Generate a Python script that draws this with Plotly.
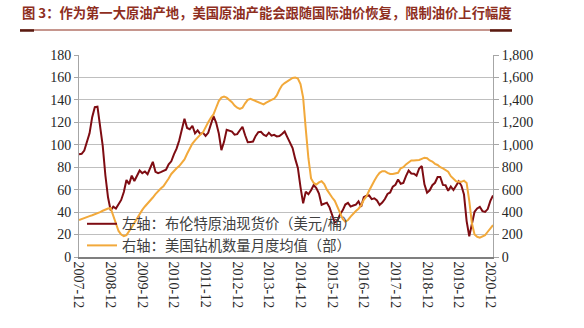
import pandas as pd
import plotly.graph_objects as go

months = [d.strftime("%Y-%m") for d in pd.date_range("2007-12-01", "2021-01-01", freq="MS")]

brent = [
    91.45,
    91.92, 94.82, 103.28, 110.19, 124.61, 133.47, 133.90, 113.85, 99.06, 72.84, 53.24, 41.58,
    44.86, 43.24, 46.84, 50.85, 57.94, 68.59, 64.92, 72.50, 67.69, 73.19, 77.04, 74.67,
    76.17, 73.75, 78.83, 84.82, 75.95, 74.76, 75.58, 77.04, 77.84, 82.67, 85.28, 91.45,
    96.52, 103.72, 114.64, 123.26, 114.99, 113.83, 116.97, 110.22, 112.83, 109.55, 110.77, 107.87,
    110.69, 119.33, 125.45, 119.75, 110.34, 95.16, 102.62, 113.36, 112.86, 111.71, 109.06, 109.49,
    112.96, 116.05, 108.47, 102.25, 102.56, 102.92, 107.93, 111.28, 111.60, 109.08, 107.79, 110.76,
    108.12, 108.90, 107.48, 107.76, 109.54, 111.80, 106.77, 101.61, 97.09, 87.43, 79.44, 62.34,
    47.76, 58.10, 55.89, 59.52, 64.08, 61.48, 56.56, 46.52, 47.62, 48.43, 44.27, 38.01,
    30.70, 32.18, 38.21, 41.58, 46.74, 48.25, 44.95, 45.84, 46.57, 49.52, 44.73, 53.31,
    54.58, 54.87, 51.59, 52.31, 50.33, 46.37, 48.48, 51.70, 56.15, 57.51, 62.71, 64.37,
    69.08, 65.32, 66.02, 72.11, 76.98, 74.41, 74.25, 72.53, 78.89, 81.03, 64.75, 57.36,
    59.41, 63.96, 66.14, 71.23, 71.32, 64.22, 63.92, 59.04, 62.83, 59.71, 63.21, 67.31,
    63.65, 55.66, 32.01, 18.38, 29.38, 40.27, 43.24, 44.74, 40.91, 40.19, 42.69, 49.99,
    54.77,
]

rigs = [
    330,
    340, 348, 356, 364, 372, 380, 390, 400, 412, 424, 432, 435,
    360, 290, 232, 200, 186, 195, 225, 265, 305, 345, 385, 420,
    450, 475, 500, 530, 560, 590, 610, 630, 660, 700, 740, 770,
    790, 810, 840, 870, 920, 970, 1010, 1040, 1070, 1090, 1110, 1160,
    1200, 1240, 1270, 1330, 1390, 1420, 1430, 1420, 1400, 1380, 1350, 1330,
    1320, 1330, 1370, 1400, 1410, 1400, 1390, 1380, 1370, 1360, 1375, 1390,
    1400, 1410, 1440, 1490, 1530, 1550, 1565, 1580, 1595, 1600, 1590, 1540,
    1420, 1140, 880, 700, 660, 645, 665, 675, 650, 600, 560, 530,
    500, 450, 390, 340, 315, 330, 360, 390, 410, 430, 460, 510,
    540, 590, 640, 680, 720, 750, 765, 765, 750, 740, 740, 745,
    750, 790, 800, 825, 845, 860, 860, 860, 865, 875, 885, 880,
    860, 850, 830, 820, 800, 790, 775, 760, 720, 700, 675, 670,
    670, 680, 660, 500, 300, 200, 180, 172, 180, 195, 225, 260,
    285,
]

tick_labels = [f"{y}-12" for y in range(2007, 2021)]

title_text = "图 3：作为第一大原油产地，美国原油产能会跟随国际油价恢复，限制油价上行幅度"
name_brent = "左轴：布伦特原油现货价（美元/桶）"
name_rigs = "右轴：美国钻机数量月度均值（部）"

RED = "#7E0C12"
ORANGE = "#F2A93B"
TITLE_C = "#8E2E1E"
SERIF = "Liberation Serif, Times New Roman, serif"
CJK = "Noto Sans CJK SC, sans-serif"

fig = go.Figure()
fig.add_trace(go.Scatter(x=months, y=brent, name=name_brent, mode="lines",
                         line=dict(color=RED, width=2), yaxis="y"))
fig.add_trace(go.Scatter(x=months, y=rigs, name=name_rigs, mode="lines",
                         line=dict(color=ORANGE, width=2), yaxis="y2"))

W, H = 584, 328
L, R, T, B = 79, 91, 55, 71
pw, ph = W - L - R, H - T - B

def px2x(px):
    return (px - L) / pw

def py2y(py):
    return (H - B - py) / ph

fig.update_layout(
    width=W, height=H,
    margin=dict(l=L, r=R, t=T, b=B, pad=0),
    paper_bgcolor="white", plot_bgcolor="white",
    showlegend=True,
    legend=dict(x=px2x(82), y=py2y(208), xanchor="left", yanchor="top",
                bgcolor="rgba(0,0,0,0)", font=dict(family=CJK, size=14.3, color="#404040"),
                tracegroupgap=0, itemwidth=30),
    title=dict(text="<b>" + title_text + "</b>", x=22 / W, xanchor="left",
               y=1 - 13 / H, yanchor="middle",
               font=dict(family=CJK, size=13.3, color=TITLE_C)),
    xaxis=dict(type="category", range=[0, len(months) - 1],
               tickmode="array", tickvals=[m for m in months if m.endswith("-12")],
               ticktext=tick_labels, tickangle=90,
               tickfont=dict(family=SERIF, size=14, color="#262626"),
               showgrid=False, showline=True, linecolor="#7F7F7F", linewidth=1.5,
               ticks="", zeroline=False),
    yaxis=dict(range=[0, 180], dtick=20, tickfont=dict(family=SERIF, size=14, color="#262626"),
               showgrid=True, gridcolor="#BFBFBF", gridwidth=1,
               showline=True, linecolor="#A6A6A6", linewidth=1,
               ticks="outside", ticklen=4, tickcolor="#A6A6A6", zeroline=False),
    yaxis2=dict(range=[0, 1800], dtick=200, overlaying="y", side="right",
                tickformat=",", tickfont=dict(family=SERIF, size=14, color="#262626"),
                showgrid=False, showline=True, linecolor="#A6A6A6", linewidth=1,
                ticks="outside", ticklen=5, tickcolor="#A6A6A6", zeroline=False),
)

# title underline
fig.add_shape(type="line", xref="paper", yref="paper",
              x0=px2x(20), x1=px2x(512), y0=py2y(30), y1=py2y(30),
              line=dict(color=TITLE_C, width=1.2))
fig.add_shape(type="line", xref="paper", yref="paper",
              x0=px2x(20), x1=px2x(34), y0=py2y(30.5), y1=py2y(30.5),
              line=dict(color="#5A1A10", width=2.5))
fig.add_shape(type="line", xref="paper", yref="paper",
              x0=px2x(490), x1=px2x(512), y0=py2y(30.5), y1=py2y(30.5),
              line=dict(color="#5A1A10", width=2.5))

fig.write_html("out.html")
